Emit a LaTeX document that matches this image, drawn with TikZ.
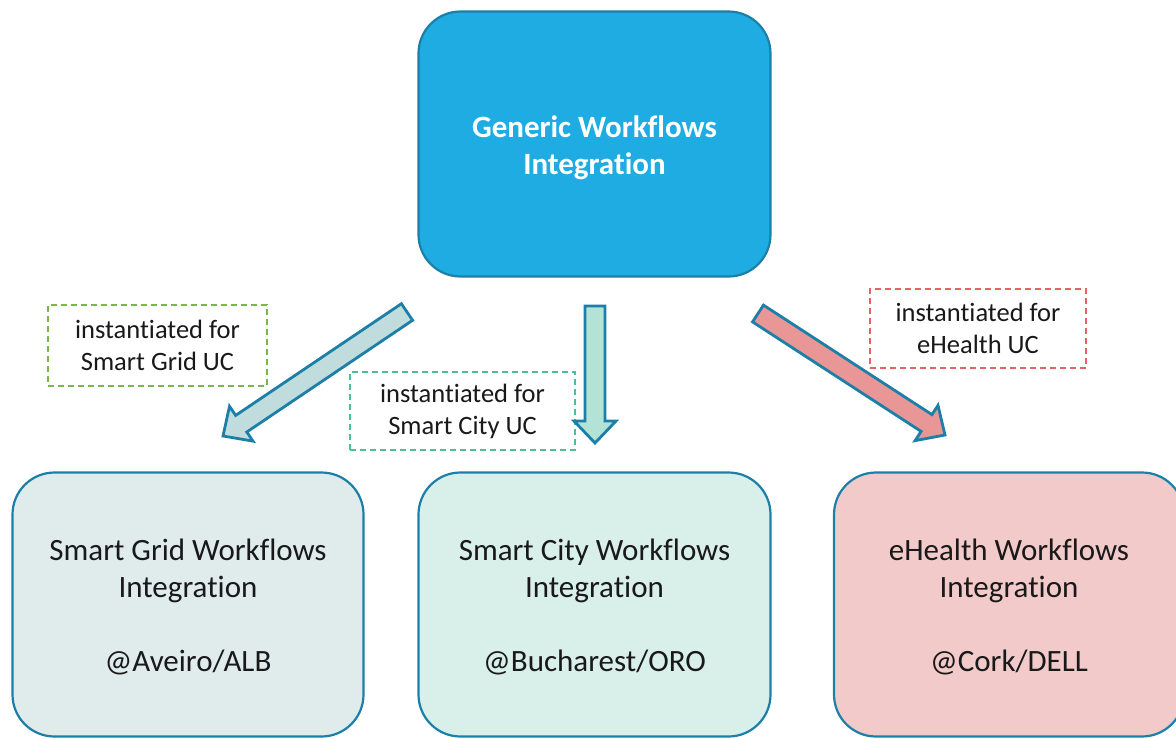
\documentclass[tikz,border=0pt]{standalone}
\usepackage{fontspec}
\setmainfont[Ligatures=NoCommon]{Carlito}
\usetikzlibrary{calc}
\definecolor{topfill}{HTML}{1FACE3}
\definecolor{edgeblue}{HTML}{1B7FA8}
\definecolor{gridfill}{HTML}{E0ECEC}
\definecolor{cityfill}{HTML}{D9EFEA}
\definecolor{healthfill}{HTML}{F3CACA}
\definecolor{gridarrow}{HTML}{C0DCDC}
\definecolor{cityarrow}{HTML}{B3E2D6}
\definecolor{healtharrow}{HTML}{E99696}
\definecolor{gridlabel}{HTML}{7AB648}
\definecolor{citylabel}{HTML}{4DBE99}
\definecolor{healthlabel}{HTML}{E06666}
\tikzset{
  wfbox/.style={draw=edgeblue, line width=2.2pt, rounded corners=42pt, align=center,
    font=\fontsize{31}{37}\selectfont, text=black!90},
  lblbox/.style={draw, dashed, line width=1.4pt, dash pattern=on 6pt off 4pt, align=center,
    font=\fontsize{26.5}{32}\selectfont, text=black!90},
  blockarrowstyle/.style={draw=edgeblue, line width=2.8pt, line join=miter}
}
\newcommand\myblockarrow[3]{%
  \draw[blockarrowstyle, fill=#3]
    ($(#1)!10pt!90:(#2)$) --
    ($($(#2)!22pt!(#1)$)!10pt!90:(#2)$) --
    ($($(#2)!22pt!(#1)$)!21pt!90:(#2)$) --
    (#2) --
    ($($(#2)!22pt!(#1)$)!21pt!-90:(#2)$) --
    ($($(#2)!22pt!(#1)$)!10pt!-90:(#2)$) --
    ($(#1)!10pt!-90:(#2)$) -- cycle;}
\begin{document}
\begin{tikzpicture}[x=1pt,y=-1pt]
\useasboundingbox (0,0) rectangle (1176,739);
\node[wfbox, fill=topfill, text=white, font=\fontsize{31}{37}\selectfont\bfseries,
  minimum width=352pt, minimum height=265pt] (generic) at (594.5,144) {\rule{0pt}{29pt}Generic Workflows\\Integration};
\node[wfbox, fill=gridfill, minimum width=351pt, minimum height=264pt] (grid) at (188,604.5)
  {\rule{0pt}{27pt}Smart Grid Workflows\\Integration\\[37pt]@Aveiro/ALB};
\node[wfbox, fill=cityfill, minimum width=352pt, minimum height=264pt] (city) at (594.5,604.5)
  {\rule{0pt}{27pt}Smart City Workflows\\Integration\\[37pt]@Bucharest/ORO};
\node[wfbox, fill=healthfill, minimum width=350pt, minimum height=264pt] (health) at (1009,604.5)
  {\rule{0pt}{27pt}eHealth Workflows\\Integration\\[37pt]@Cork/DELL};
\node[lblbox, draw=gridlabel, minimum width=219pt, minimum height=81pt] (lgrid) at (157.5,345.5)
  {instantiated for\\Smart Grid UC};
\node[lblbox, draw=citylabel, minimum width=225pt, minimum height=78pt] (lcity) at (462.5,411)
  {instantiated for\\Smart City UC};
\node[lblbox, draw=healthlabel, minimum width=216pt, minimum height=79pt] (lhealth) at (978,328.5)
  {instantiated for\\eHealth UC};
\coordinate (ga) at (407,312);
\coordinate (gb) at (223,436);
\coordinate (ca) at (595,306);
\coordinate (cb) at (595,443);
\coordinate (ha) at (758,313.5);
\coordinate (hb) at (945,435);
\myblockarrow{ga}{gb}{gridarrow}
\myblockarrow{ca}{cb}{cityarrow}
\myblockarrow{ha}{hb}{healtharrow}
\end{tikzpicture}
\end{document}
